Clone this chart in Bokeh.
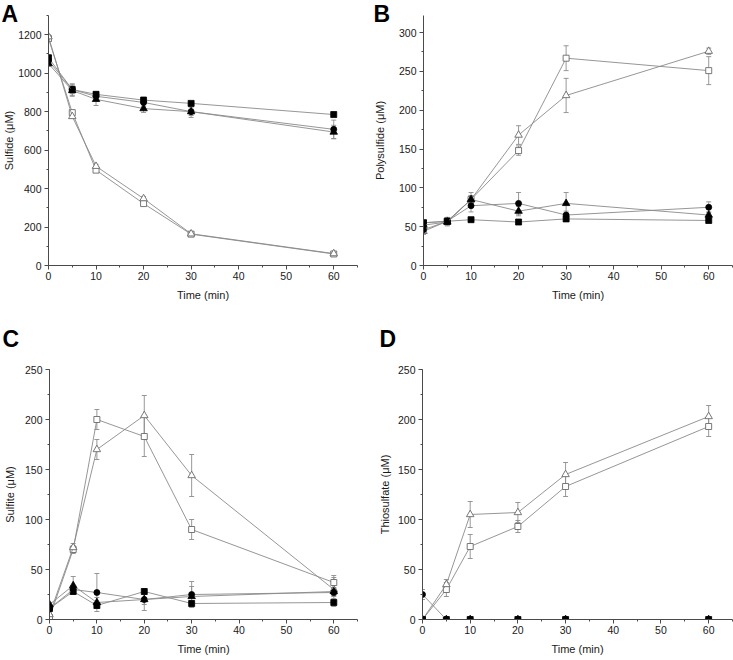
from bokeh.plotting import figure
from bokeh.layouts import column, row
from bokeh.models import ColumnDataSource, Whisker, TeeHead, SingleIntervalTicker, Range1d
from bokeh.embed import file_html
from bokeh.resources import INLINE

# ---------------- data ----------------
times = [0, 5, 10, 20, 30, 60]

# Panel A: Sulfide (uM)
A_sq_closed = [1080, 915, 890, 860, 843, 785]
A_sq_closed_err = [15, 20, 15, 15, 12, 10]
A_ci_closed = [1065, 915, 880, 848, 800, 708]
A_ci_closed_err = [15, 30, 20, 20, 20, 48]
A_tr_closed = [1050, 910, 864, 816, 800, 694]
A_tr_closed_err = [15, 30, 32, 20, 30, 35]
A_sq_open = [1180, 795, 496, 322, 163, 60]
A_sq_open_err = [10, 10, 10, 10, 8, 5]
A_tr_open = [1190, 775, 516, 348, 165, 62]
A_tr_open_err = [10, 10, 10, 10, 8, 5]

# Panel B: Polysulfide (uM)
B_sq_closed = [55, 57, 59, 56, 60, 58]
B_sq_closed_err = [3, 3, 3, 2, 3, 2]
B_ci_closed = [46, 57, 77, 80, 65, 75]
B_ci_closed_err = [4, 5, 8, 14, 5, 7]
B_tr_closed = [52, 56, 85, 70, 80, 65]
B_tr_closed_err = [4, 5, 9, 6, 14, 4]
B_sq_open = [55, 57, 85, 148, 267, 251]
B_sq_open_err = [3, 4, 5, 6, 16, 18]
B_tr_open = [44, 57, 85, 168, 219, 276]
B_tr_open_err = [4, 4, 5, 12, 22, 4]

# Panel C: Sulfite (uM)
C_sq_closed = [11, 28, 14, 28, 16, 17]
C_sq_closed_err = [2, 3, 3, 3, 3, 4]
C_ci_closed = [11, 30, 27, 20, 25, 27]
C_ci_closed_err = [2, 4, 19, 5, 13, 4]
C_tr_closed = [15, 34, 17, 20, 23, 28]
C_tr_closed_err = [2, 9, 5, 11, 10, 4]
C_sq_open = [2, 70, 200, 183, 90, 37]
C_sq_open_err = [1, 4, 10, 20, 10, 7]
C_tr_open = [5, 72, 170, 204, 144, 30]
C_tr_open_err = [1, 4, 10, 20, 21, 12]

# Panel D: Thiosulfate (uM)
D_sq_closed = [0, 0, 0, 0, 0, 0]
D_sq_closed_err = [0, 0, 0, 0, 0, 0]
D_ci_closed = [25, 0, 0, 0, 0, 0]
D_ci_closed_err = [5, 0, 0, 0, 0, 0]
D_tr_closed = [0, 0, 0, 0, 0, 0]
D_tr_closed_err = [0, 0, 0, 0, 0, 0]
D_sq_open = [0, 30, 73, 93, 133, 193]
D_sq_open_err = [0, 7, 12, 6, 10, 10]
D_tr_open = [0, 35, 105, 107, 145, 203]
D_tr_open_err = [0, 5, 13, 10, 12, 11]

x_max = 65
panel_letters = ["A", "B", "C", "D"]
y_labels = ["Sulfide (\u03bcM)", "Polysulfide (\u03bcM)", "Sulfite (\u03bcM)", "Thiosulfate (\u03bcM)"]
x_label = "Time (min)"
y_max = [1300, 322, 250, 250]
y_step = [200, 50, 50, 50]

FONT = "Liberation Sans"
AX = "#4a4a4a"
LINE = "#8a8a8a"
OPEN = "#6a6a6a"


def add_series(p, y, err, marker, filled):
    lower = [v - e for v, e in zip(y, err)]
    upper = [v + e for v, e in zip(y, err)]
    src = ColumnDataSource(dict(x=times, y=y, lower=lower, upper=upper))
    p.line("x", "y", source=src, line_color=LINE, line_width=0.9)
    w = Whisker(source=src, base="x", upper="upper", lower="lower",
                line_color="#8c8c8c", line_width=0.9,
                upper_head=TeeHead(size=5, line_color="#8c8c8c", line_width=0.9),
                lower_head=TeeHead(size=5, line_color="#8c8c8c", line_width=0.9))
    p.add_layout(w)
    size = {"square": 6, "circle": 6, "triangle": 7.5}[marker]
    if filled:
        p.scatter("x", "y", source=src, marker=marker, size=size,
                  fill_color="black", line_color="black", line_width=0.8)
    else:
        p.scatter("x", "y", source=src, marker=marker, size=size,
                  fill_color="white", line_color=OPEN, line_width=0.9)


def make_panel(idx, series, width, height, bl, br, bt, bb, lx, standoff, ylab_standoff):
    p = figure(width=width, height=height, output_backend="svg", toolbar_location=None,
               x_range=Range1d(0, x_max), y_range=Range1d(0, y_max[idx]),
               min_border_left=bl, min_border_right=br, min_border_top=bt, min_border_bottom=bb)
    p.outline_line_color = None
    p.xgrid.visible = False
    p.ygrid.visible = False
    p.background_fill_color = "white"
    p.border_fill_color = "white"
    p.xaxis.ticker = SingleIntervalTicker(interval=10, num_minor_ticks=2)
    p.yaxis.ticker = SingleIntervalTicker(interval=y_step[idx], num_minor_ticks=2)
    p.xaxis.axis_label = x_label
    p.yaxis.axis_label = y_labels[idx]
    for ax in (p.xaxis[0], p.yaxis[0]):
        ax.axis_line_color = AX
        ax.axis_line_width = 1
        ax.major_tick_line_color = AX
        ax.minor_tick_line_color = AX
        ax.major_tick_out = 4
        ax.major_tick_in = 0
        ax.minor_tick_out = 2
        ax.minor_tick_in = 0
        ax.major_label_text_font = FONT
        ax.major_label_text_font_size = "10.5px"
        ax.major_label_text_color = "#1a1a1a"
        ax.axis_label_text_font = FONT
        ax.axis_label_text_font_size = "11px"
        ax.axis_label_text_font_style = "normal"
        ax.axis_label_text_color = "#1a1a1a"
    p.xaxis.major_label_standoff = 2
    p.xaxis.axis_label_standoff = 6
    p.yaxis.major_label_standoff = 3
    p.yaxis.axis_label_standoff = int(ylab_standoff)
    for (y, err, marker, filled) in series:
        add_series(p, y, err, marker, filled)
    p.title.text = panel_letters[idx]
    p.title.align = "left"
    p.title.offset = lx - bl
    p.title.standoff = standoff
    p.title.text_font = FONT
    p.title.text_font_size = "23px"
    p.title.text_font_style = "bold"
    p.title.text_color = "black"
    return p


sA = [(A_sq_open, A_sq_open_err, "square", False), (A_tr_open, A_tr_open_err, "triangle", False),
      (A_sq_closed, A_sq_closed_err, "square", True), (A_ci_closed, A_ci_closed_err, "circle", True),
      (A_tr_closed, A_tr_closed_err, "triangle", True)]
sB = [(B_sq_open, B_sq_open_err, "square", False), (B_tr_open, B_tr_open_err, "triangle", False),
      (B_sq_closed, B_sq_closed_err, "square", True), (B_ci_closed, B_ci_closed_err, "circle", True),
      (B_tr_closed, B_tr_closed_err, "triangle", True)]
sC = [(C_sq_open, C_sq_open_err, "square", False), (C_tr_open, C_tr_open_err, "triangle", False),
      (C_sq_closed, C_sq_closed_err, "square", True), (C_ci_closed, C_ci_closed_err, "circle", True),
      (C_tr_closed, C_tr_closed_err, "triangle", True)]
sD = [(D_sq_open, D_sq_open_err, "square", False), (D_tr_open, D_tr_open_err, "triangle", False),
      (D_sq_closed, D_sq_closed_err, "square", True), (D_tr_closed, D_tr_closed_err, "triangle", True),
      (D_ci_closed, D_ci_closed_err, "circle", True)]

pA = make_panel(0, sA, 370, 305, 47, 13, 15, 38, 0, -22, 0)
pB = make_panel(1, sB, 363, 305, 52, 1, 15, 40, 2, -22, 10)
pC = make_panel(2, sC, 370, 355, 47, 13, 64, 39, 0, 36, 6)
pD = make_panel(3, sD, 363, 355, 52, 1, 63, 41, 9, 35, 4)

layout = column(row(pA, pB, spacing=0), row(pC, pD, spacing=0), spacing=0)

open("out.html", "w").write(file_html(layout, INLINE))
